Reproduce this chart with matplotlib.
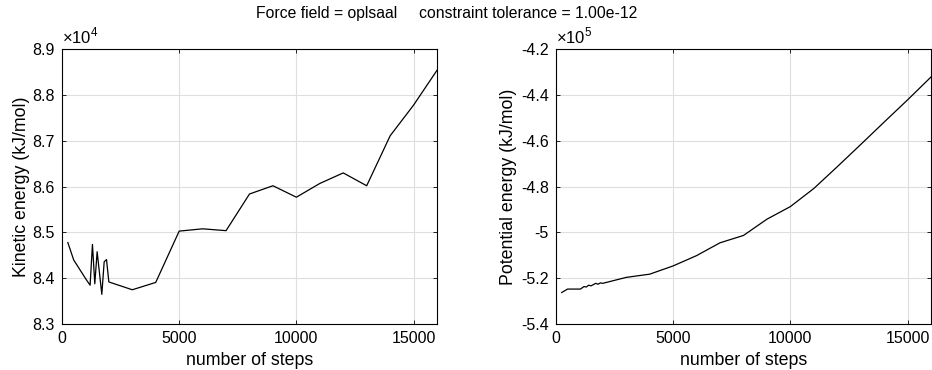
import matplotlib
matplotlib.use("Agg")
import matplotlib.pyplot as plt
from matplotlib.ticker import FuncFormatter

plt.rcParams['font.family'] = ['Liberation Sans', 'DejaVu Sans']
plt.rcParams['mathtext.fontset'] = 'custom'
plt.rcParams['mathtext.rm'] = 'Liberation Sans'

# steps at which energies were sampled
steps = [250, 500, 1050, 1200, 1300, 1400, 1500, 1700, 1800, 1900, 2000,
         3000, 4000, 5000, 6000, 7000, 8000, 9000, 10000, 11000, 12000,
         13000, 14000, 15000, 16000]

# kinetic energy, units of 1e4 kJ/mol
kinetic = [8.478, 8.440, 8.396, 8.385, 8.474, 8.388, 8.458, 8.365, 8.436,
           8.441, 8.392, 8.375, 8.391, 8.503, 8.508, 8.504, 8.584, 8.602,
           8.577, 8.607, 8.630, 8.602, 8.711, 8.778, 8.854]

# potential energy, units of 1e5 kJ/mol
potential = [-5.262, -5.247, -5.247, -5.236, -5.238, -5.230, -5.233, -5.222,
             -5.226, -5.220, -5.222, -5.196, -5.182, -5.146, -5.101, -5.045,
             -5.013, -4.942, -4.887, -4.808, -4.713, -4.616, -4.518, -4.421,
             -4.321]

title = "Force field = oplsaal     constraint tolerance = 1.00e-12"

fig = plt.figure(figsize=(9.32, 3.7), dpi=100)
ax1 = fig.add_axes([0.0665, 0.124, 0.4024, 0.743])
ax2 = fig.add_axes([0.5964, 0.124, 0.4026, 0.743])

def style(ax):
    ax.grid(True, color='#dedede', linewidth=0.8)
    ax.set_axisbelow(True)
    ax.tick_params(direction='in', top=True, right=True, length=3,
                   width=0.6, labelsize=11.5, pad=5)
    for s in ax.spines.values():
        s.set_linewidth(0.8)
    ax.set_xlim(0, 16000)
    ax.set_xticks([0, 5000, 10000, 15000])
    ax.set_xlabel('number of steps', fontsize=12.8, labelpad=4)
    ax.yaxis.set_major_formatter(FuncFormatter(lambda v, p: '%g' % round(v, 3)))

ax1.plot(steps, kinetic, color='black', linewidth=0.9)
style(ax1)
ax1.set_ylim(8.3, 8.9)
ax1.set_yticks([8.3, 8.4, 8.5, 8.6, 8.7, 8.8, 8.9])
ax1.set_ylabel('Kinetic energy (kJ/mol)', fontsize=12.8, labelpad=2)
ax1.text(0.0, 1.012, r'$\times10^{4}$', transform=ax1.transAxes,
         fontsize=12, ha='left', va='bottom')

ax2.plot(steps, potential, color='black', linewidth=0.9)
style(ax2)
ax2.set_ylim(-5.4, -4.2)
ax2.set_yticks([-5.4, -5.2, -5.0, -4.8, -4.6, -4.4, -4.2])
ax2.set_ylabel('Potential energy (kJ/mol)', fontsize=12.8, labelpad=3)
ax2.text(0.0, 1.012, r'$\times10^{5}$', transform=ax2.transAxes,
         fontsize=12, ha='left', va='bottom')

fig.text(0.479, 0.963, title, fontsize=11.3, ha='center', va='center')

fig.savefig('out.png', dpi=100)
